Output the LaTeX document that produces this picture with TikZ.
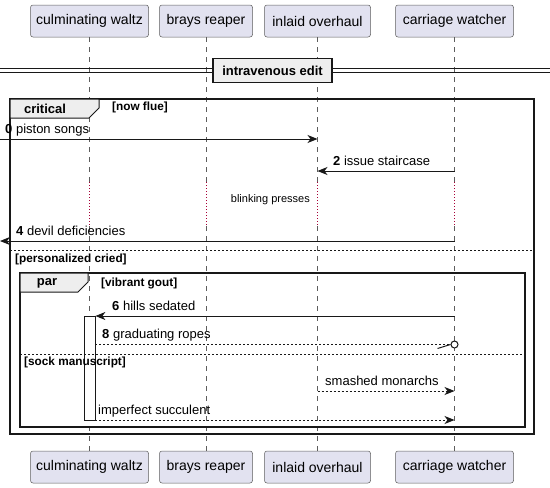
\documentclass[tikz,border=0pt]{standalone}
\usepackage{fontspec}
\setmainfont{Liberation Sans}
\usetikzlibrary{arrows.meta,positioning}

\definecolor{partfill}{HTML}{E2E2F0}
\definecolor{hdrfill}{HTML}{EEEEEE}
\definecolor{ink}{HTML}{181818}
\definecolor{delaydot}{HTML}{A80036}

\begin{document}
\begin{tikzpicture}[
        x=1pt, y=-1pt,
        % define styles
        part/.style={
            draw=ink!70, line width=0.5pt,
            fill=partfill, rounded corners=2.5pt,
            minimum height=32pt, inner xsep=0pt,
            font=\fontsize{14}{16}\selectfont
        },
        life/.style={draw=ink!70, line width=0.6pt, dash pattern=on 5pt off 5pt},
        delay/.style={draw=delaydot, line width=1pt, dash pattern=on 1pt off 2pt},
        msg/.style={
            draw=ink, line width=1pt,
            -{Stealth[length=10pt,width=8pt,inset=3pt]}
        },
        reply/.style={msg, dash pattern=on 2pt off 2pt},
        lbl/.style={anchor=base west, inner sep=0pt, font=\fontsize{13}{15}\selectfont},
        grp/.style={draw=ink, line width=1.5pt},
        tab/.style={draw=ink, line width=1pt, fill=hdrfill},
        kw/.style={inner sep=0pt, font=\bfseries\fontsize{13}{15}\selectfont},
        cond/.style={anchor=west, inner sep=0pt, font=\bfseries\fontsize{11.8}{13}\selectfont},
        divider/.style={draw=ink, line width=0.8pt, dash pattern=on 2pt off 2pt}
    ]
    \useasboundingbox (0,0) rectangle (550,488);

    % participants, top and bottom, with their lifelines
    \foreach \name/\txt/\x/\w in {waltz/culminating waltz/89.5/118,
                                  reaper/brays reaper/206/93,
                                  overhaul/inlaid overhaul/317.5/106,
                                  watcher/carriage watcher/454.5/118} {
        \node[part, minimum width=\w pt] (\name T) at (\x,21) {\txt};
        \node[part, minimum width=\w pt] (\name B) at (\x,467) {\txt};
        \draw[life] (\name T) -- (\name T |- 0,182);
        \draw[delay] (\name T |- 0,182) -- (\name T |- 0,226);
        \draw[life] (\name T |- 0,226) -- (\name B);
    }

    % separator
    \draw[ink, line width=1pt] (0,68.5) -- (550,68.5);
    \draw[ink, line width=1pt] (0,72.5) -- (550,72.5);
    \node[kw, draw=ink, line width=1.5pt, fill=hdrfill,
          minimum width=119pt, minimum height=24pt] (sep) at (272.5,70.5) {intravenous edit};

    % critical group
    \draw[grp] (10,99) rectangle (534,434);
    \draw[tab] (10,99) -- (99,99) -- (99,108) -- (89,118) -- (10,118) -- cycle;
    \node[kw] (crit) at (45,108.5) {critical};
    \node[cond] (critc) at (112,107) {[now flue]};

    %piston songs from the left edge
    \coordinate (in0) at (0,139);
    \draw[msg] (in0) -- (overhaulT |- in0);
    \node[lbl] (l0) at (5,133) {\textbf{0} piston songs};

    \draw[msg] (watcherT |- 0,171) -- (overhaulT |- 0,171);
    \node[lbl] (l2) at (333,165) {\textbf{2} issue staircase};

    % delay
    \node[anchor=east, inner sep=0pt, font=\fontsize{11}{13}\selectfont] (dly) at (310,200) {blinking presses};

    % devil deficiencies out to the left edge
    \coordinate (out4) at (0,241);
    \draw[msg] (watcherT |- out4) -- (out4);
    \node[lbl] (l4) at (16,235) {\textbf{4} devil deficiencies};

    \draw[divider] (10,250) -- (534,250);
    \node[cond] (critd) at (15,259) {[personalized cried]};

    % par group
    \draw[grp] (20,273) rectangle (525,427);
    \draw[tab] (20,273) -- (88,273) -- (88,282) -- (78,292) -- (20,292) -- cycle;
    \node[kw] (par) at (47,283.5) {par};
    \node[cond] (parc) at (101,283) {[vibrant gout]};

    % activation on culminating waltz
    \node[draw=ink, line width=0.8pt, fill=white, inner sep=0pt,
          minimum width=11pt, minimum height=104pt] (act) at (89.5,368) {};

    \draw[msg] (watcherT |- 0,316) -- (act.east |- 0,316);
    \node[lbl] (l6) at (112,310) {\textbf{6} hills sedated};

    % graduating ropes ends in a circle
    \node[circle, draw=ink, line width=1pt, fill=white, inner sep=0pt,
          minimum size=7pt] (o8) at (454.5,344.5) {};
    \draw[ink, line width=1pt, dash pattern=on 2pt off 2pt] (act.east |- 0,344.5) -- (o8.west);
    \draw[ink, line width=1pt] ([shift={(-13,4)}]o8.west) -- (o8.west);
    \node[lbl] (l8) at (102,338.5) {\textbf{8} graduating ropes};

    \draw[divider] (20,354) -- (525,354);
    \node[cond] (pard) at (24,362) {[sock manuscript]};

    \draw[reply] (overhaulT |- 0,391) -- (watcherT |- 0,391);
    \node[lbl] (l9) at (325,385) {smashed monarchs};

    \draw[reply] (act.east |- 0,420) -- (watcherT |- 0,420);
    \node[lbl] (l10) at (98,414) {imperfect succulent};
\end{tikzpicture}
\end{document}
